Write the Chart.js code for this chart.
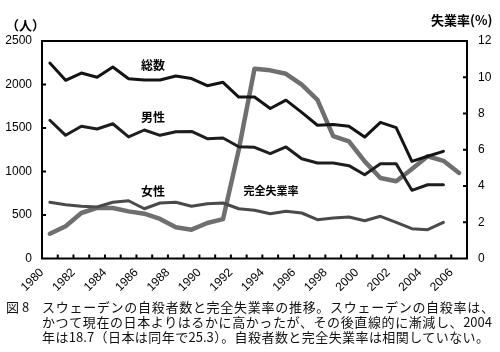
<!DOCTYPE html>
<html>
<head>
<meta charset="utf-8">
<script src="https://cdn.jsdelivr.net/npm/chart.js@4.4.1/dist/chart.umd.min.js"></script>
<style>
  body { margin: 0; background: #fff; }
  #wrap { position: relative; width: 500px; height: 352px; }
  .cap { position: absolute; font-family: "Noto Sans CJK JP"; font-size: 13px; line-height: 15px; color: #111; white-space: nowrap; }
  .just { white-space: normal; text-align: justify; text-align-last: justify; }
</style>
</head>
<body>
<div id="wrap">
  <canvas id="Chart"></canvas>
  <div class="cap" style="left:6px; top:299px">図 8</div>
  <div class="cap just" style="left:42px; top:299px; width:452px">スウェーデンの自殺者数と完全失業率の推移。スウェーデンの自殺率は、</div>
  <div class="cap just" style="left:42px; top:314px; width:450px">かつて現在の日本よりはるかに高かったが、その後直線的に漸減し、2004</div>
  <div class="cap just" style="left:42px; top:329px; width:447px">年は18.7（日本は同年で25.3）。自殺者数と完全失業率は相関していない。</div>
</div>
<script>
// years (points sit in the middle of each year)
const years = [1980, 1981, 1982, 1983, 1984, 1985, 1986, 1987, 1988, 1989, 1990, 1991, 1992,
  1993, 1994, 1995, 1996, 1997, 1998, 1999, 2000, 2001, 2002, 2003, 2004, 2005, 2006];

// suicides (persons), 1980-2005
const total = [2247, 2048, 2132, 2083, 2201, 2067, 2052, 2052, 2098, 2068, 1986, 2025, 1855,
  1856, 1724, 1820, 1680, 1532, 1540, 1521, 1396, 1565, 1505, 1117, 1175, 1232];
const male = [1589, 1416, 1520, 1489, 1549, 1397, 1477, 1416, 1457, 1460, 1377, 1385, 1285,
  1278, 1205, 1282, 1147, 1098, 1098, 1067, 963, 1090, 1090, 784, 848, 848];
const female = [646, 618, 600, 592, 646, 664, 572, 638, 646, 600, 630, 638, 572,
  554, 515, 542, 523, 446, 466, 477, 434, 485, 416, 343, 331, 416];

// unemployment rate (%), 1980-2006
const unemp = [1.37, 1.78, 2.51, 2.79, 2.79, 2.6, 2.47, 2.18, 1.72, 1.59, 1.96, 2.17, 6.0,
  10.47, 10.38, 10.19, 9.59, 8.75, 6.75, 6.46, 5.36, 4.44, 4.26, 4.94, 5.64, 5.39, 4.72];

const leftTicks = [0, 500, 1000, 1500, 2000, 2500];
const rightTicks = [0, 2, 4, 6, 8, 10, 12];

const pts = arr => arr.map((v, i) => ({ x: years[i] + 0.5, y: v }));

const tickFont = { family: 'Liberation Sans', size: 12 };
const jp = '"Noto Sans CJK JP"';

const decor = {
  id: 'decor',
  afterDraw(chart) {
    const { ctx, chartArea: a, scales } = chart;
    const x = scales.x, yl = scales.y, yr = scales.y1;
    ctx.save();
    ctx.strokeStyle = '#000';
    ctx.lineWidth = 2;
    ctx.strokeRect(a.left, a.top, a.right - a.left, a.bottom - a.top);
    ctx.beginPath();
    for (let yr2 = 1981; yr2 < 2007; yr2++) {
      const px = x.getPixelForValue(yr2);
      ctx.moveTo(px, a.bottom);
      ctx.lineTo(px, a.bottom - 4);
    }
    leftTicks.slice(1, -1).forEach(v => {
      const py = yl.getPixelForValue(v);
      ctx.moveTo(a.left, py);
      ctx.lineTo(a.left + 4, py);
    });
    rightTicks.slice(1, -1).forEach(v => {
      const py = yr.getPixelForValue(v);
      ctx.moveTo(a.right, py);
      ctx.lineTo(a.right - 4, py);
    });
    ctx.stroke();

    ctx.fillStyle = '#000';
    ctx.textBaseline = 'middle';
    ctx.font = 'bold 13px ' + jp;
    ctx.textAlign = 'left';
    ctx.fillText('（人）', 6, 25);
    ctx.fillText('失業率(%)', 431, 20);

    ctx.font = 'bold 12px ' + jp;
    ctx.textAlign = 'center';
    const lab = (t, xv, yv) => ctx.fillText(t, x.getPixelForValue(xv), yl.getPixelForValue(yv));
    lab('総数', 1987.05, 2224);
    lab('男性', 1987.05, 1626);
    lab('女性', 1987.05, 776);
    ctx.font = 'bold 11px ' + jp;
    lab('完全失業率', 1994.55, 776);
    ctx.restore();
  }
};

const line = (data, color, width, axis) => ({
  data: pts(data),
  borderColor: color,
  borderWidth: width,
  pointRadius: 0,
  tension: 0,
  yAxisID: axis,
  borderJoinStyle: 'round',
  borderCapStyle: 'round'
});

const config = {
  type: 'line',
  data: {
    datasets: [
      line(total, '#141414', 3, 'y'),
      line(male, '#1e1e1e', 3, 'y'),
      line(female, '#4a4a4a', 3, 'y'),
      line(unemp, '#6f6f6f', 4.5, 'y1')
    ]
  },
  options: {
    animation: false,
    responsive: true,
    maintainAspectRatio: false,
    layout: { padding: { top: 41, left: 0, right: 0, bottom: 0 } },
    plugins: { legend: { display: false }, tooltip: { enabled: false } },
    scales: {
      x: {
        type: 'linear',
        min: 1980,
        max: 2007,
        grid: { display: false, drawTicks: false },
        border: { display: false },
        ticks: {
          stepSize: 1,
          autoSkip: false,
          minRotation: 45,
          maxRotation: 45,
          padding: 7,
          color: '#000',
          font: tickFont,
          callback: v => (v % 2 === 0 && v < 2007) ? String(v) : ''
        },
        afterFit: s => { s.height = 93.5; }
      },
      y: {
        position: 'left',
        min: 0,
        max: 2500,
        grid: { display: false, drawTicks: false },
        border: { display: false },
        ticks: { stepSize: 500, padding: 10, color: '#000', font: tickFont, callback: v => String(v) },
        afterFit: s => { s.width = 42; }
      },
      y1: {
        position: 'right',
        min: 0,
        max: 12,
        grid: { display: false, drawTicks: false },
        border: { display: false },
        ticks: { stepSize: 2, padding: 11, color: '#000', font: tickFont, callback: v => String(v) },
        afterFit: s => { s.width = 33; }
      }
    }
  },
  plugins: [decor]
};

const myChart = new Chart(document.getElementById('Chart'), config);
</script>
</body>
</html>
